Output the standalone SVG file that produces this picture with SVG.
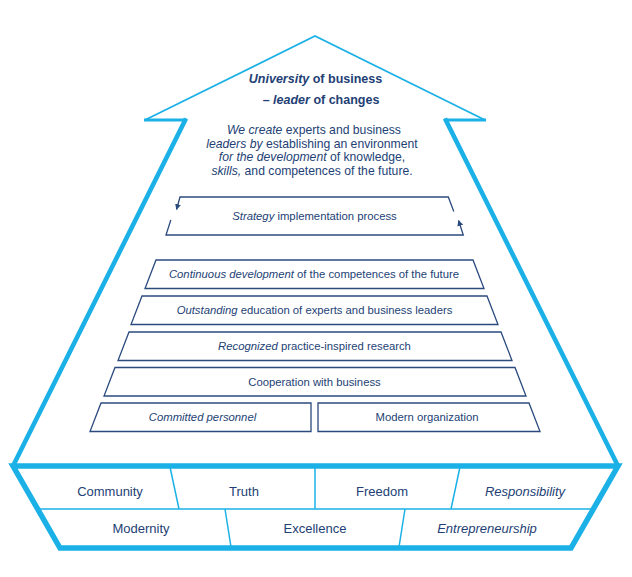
<svg xmlns="http://www.w3.org/2000/svg" width="632" height="577" viewBox="0 0 632 577">
<style>
text{font-family:"Liberation Sans",Arial,sans-serif;fill:#233f75;text-anchor:middle}
.i{font-style:italic}
.cy{fill:none;stroke:#1bb1e6;stroke-linejoin:miter;stroke-linecap:butt}
.thin{fill:none;stroke:#1bb1e6;stroke-width:1.5}
.bar{fill:none;stroke:#2b4a7e;stroke-width:1.3;stroke-linejoin:miter}
.t13{font-size:13px}
.t11{font-size:11.3px}
.tp{font-size:12.2px}
.tt{font-size:12.5px;font-weight:bold}
</style>
<defs>
<marker id="ah" viewBox="0 0 10 10" refX="9" refY="5" markerWidth="6" markerHeight="6" orient="auto" markerUnits="userSpaceOnUse">
<path d="M0,0 L10,5 L0,10 Z" fill="#2b4a7e"/>
</marker>
</defs>
<rect width="632" height="577" fill="#ffffff"/>

<g id="arrow">
<path class="cy" stroke-width="1.8" d="M145,120 L315,36 L485,120"/>
<path class="cy" stroke-width="3.2" d="M144,120 L187,120 M444,120 L486,120"/>
<path class="cy" stroke-width="4.6" d="M186,118.5 L13,466 M445,118.5 L618,466"/>
</g>

<g id="headline">
<text class="tt" x="315.5" y="83"><tspan class="i">University</tspan> of business</text>
<text class="tt" x="321" y="104">– <tspan class="i">leader</tspan> of changes</text>
<text class="tp" x="314" y="134"><tspan class="i">We create</tspan> experts and business</text>
<text class="tp" x="312" y="147.5"><tspan class="i">leaders by</tspan> establishing an environment</text>
<text class="tp" x="312" y="161"><tspan class="i">for the development</tspan> of knowledge,</text>
<text class="tp" x="312" y="174.5"><tspan class="i">skills,</tspan> and competences of the future.</text>
</g>

<g id="strategy">
<path class="bar" d="M453.8,211.5 L448.3,197 L180,197 L176.6,209.5" marker-end="url(#ah)"/>
<path class="bar" d="M170.8,220 L166,235 L463.3,235 L458.6,220.5" marker-end="url(#ah)"/>
<text class="t11" x="314.5" y="220"><tspan class="i">Strategy</tspan> implementation process</text>
</g>

<g id="bar1">
<polygon class="bar" points="156,260 473,260 484,288.5 145,288.5"/>
<text class="t11" x="314" y="278"><tspan class="i">Continuous development</tspan> of the competences of the future</text>
</g>
<g id="bar2">
<polygon class="bar" points="142,296 487,296 498,324.5 131,324.5"/>
<text class="t11" x="314.5" y="314"><tspan class="i">Outstanding</tspan> education of experts and business leaders</text>
</g>
<g id="bar3">
<polygon class="bar" points="129,332 501,332 512,360.5 118,360.5"/>
<text class="t11" x="314.5" y="350"><tspan class="i">Recognized</tspan> practice-inspired research</text>
</g>
<g id="bar4">
<polygon class="bar" points="115,367.5 515,367.5 526,396 104,396"/>
<text class="t11" x="314.5" y="385.5">Cooperation with business</text>
</g>
<g id="bar5a">
<polygon class="bar" points="101,403 311,403 311,431.5 90,431.5"/>
<text class="t11 i" x="202.5" y="421">Committed personnel</text>
</g>
<g id="bar5b">
<polygon class="bar" points="318,403 529,403 540,431.5 318,431.5"/>
<text class="t11" x="427" y="421">Modern organization</text>
</g>

<g id="base">
<path class="cy" stroke-width="5.5" d="M13,466 L618,466 L571,548 L60,548 Z"/>
<path class="thin" d="M37,509 L594,509 M170,467 L179,509 M315,467 L315,509 M460,467 L451,509 M225,509 L231,547 M405,509 L399,547"/>
</g>

<g id="values">
<text class="t13" x="110" y="496">Community</text>
<text class="t13" x="244" y="496">Truth</text>
<text class="t13" x="382" y="496">Freedom</text>
<text class="t13 i" x="525" y="496">Responsibility</text>
<text class="t13" x="141" y="533">Modernity</text>
<text class="t13" x="315" y="533">Excellence</text>
<text class="t13 i" x="487" y="533">Entrepreneurship</text>
</g>
</svg>
